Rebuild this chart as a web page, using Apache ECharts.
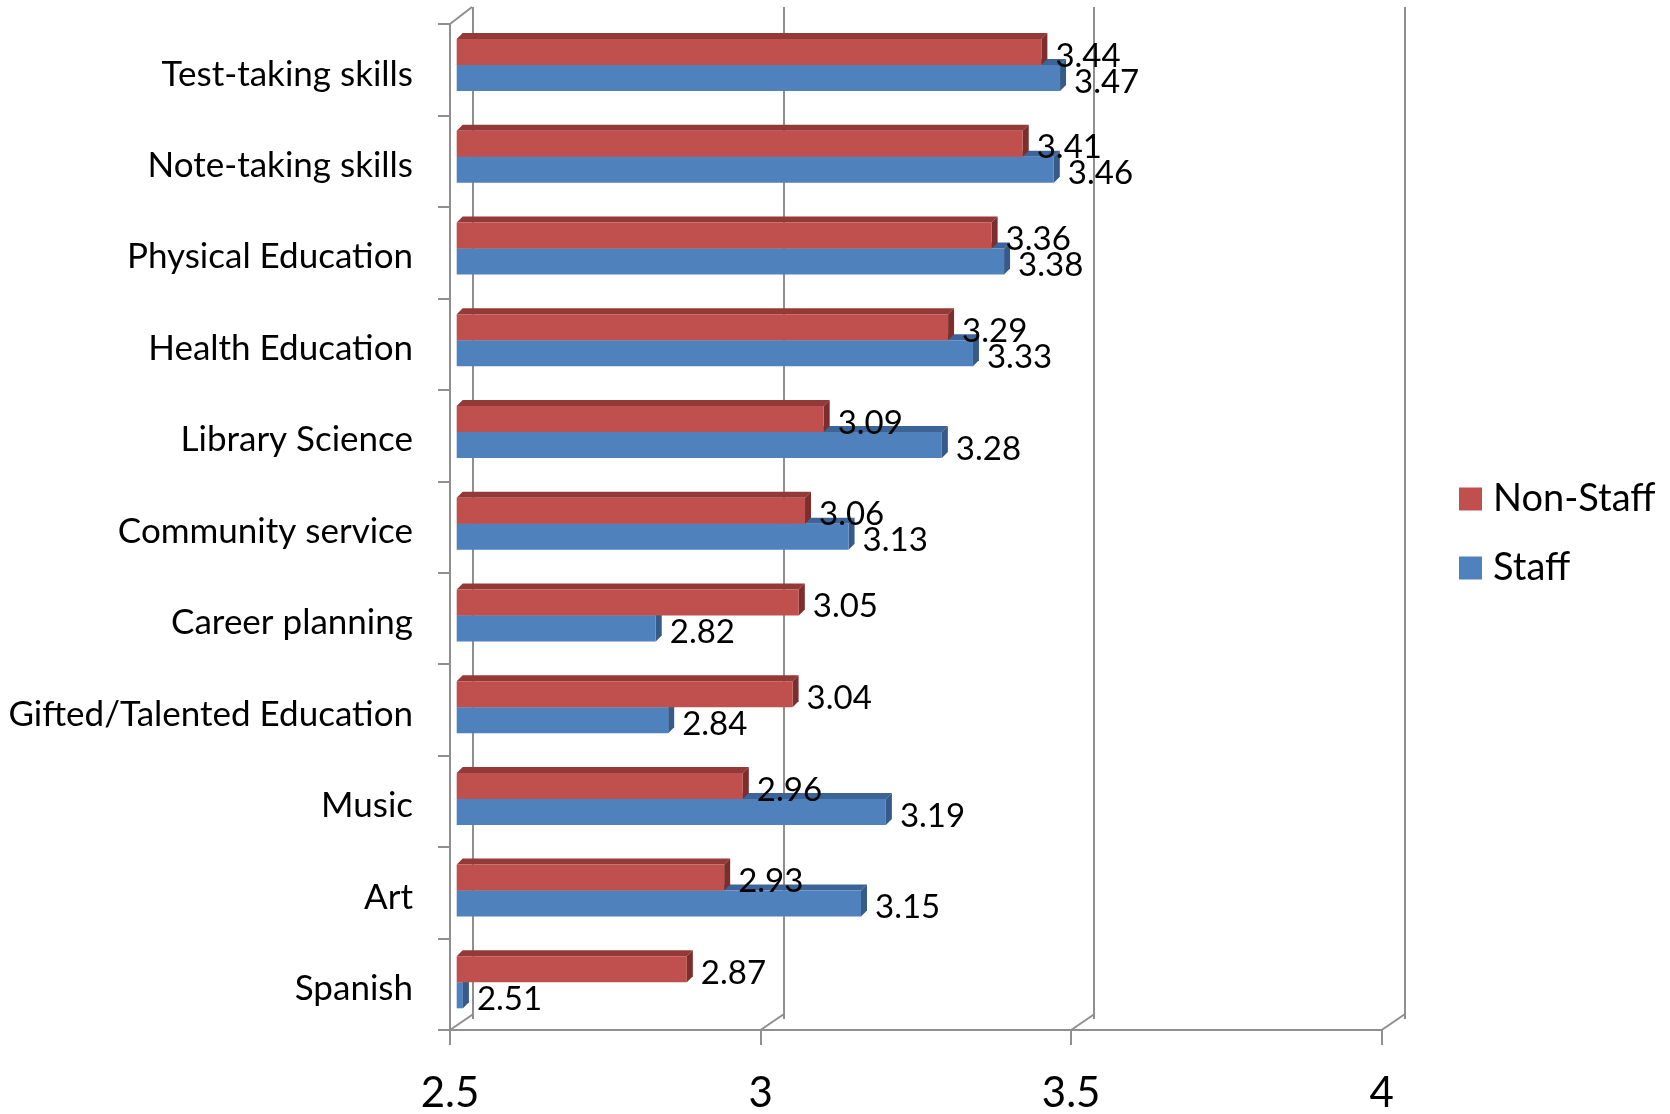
<!DOCTYPE html>
<html>
<head>
<meta charset="utf-8">
<title>Ratings by subject</title>
<script src="https://cdn.jsdelivr.net/npm/echarts@6/dist/echarts.min.js"></script>
<style>
  html, body { margin: 0; padding: 0; background: #ffffff; }
  #chart { width: 1670px; height: 1114px; }
</style>
</head>
<body>
<div id="chart"></div>
<script>
// ---- data ----
const CATEGORIES = [
  'Test-taking skills',
  'Note-taking skills',
  'Physical Education',
  'Health Education',
  'Library Science',
  'Community service',
  'Career planning',
  'Gifted/Talented Education',
  'Music',
  'Art',
  'Spanish'
];
const NON_STAFF = [3.44, 3.41, 3.36, 3.29, 3.09, 3.06, 3.05, 3.04, 2.96, 2.93, 2.87];
const STAFF     = [3.47, 3.46, 3.38, 3.33, 3.28, 3.13, 2.82, 2.84, 3.19, 3.15, 2.51];
const AXIS_MIN = 2.5;
const AXIS_MAX = 4;
const AXIS_STEP = 0.5;
const AXIS_TICKS = [2.5, 3, 3.5, 4];

// ---- styling ----
const FONT = 'Lato, "Open Sans", sans-serif';
const WALL = '#8f8f8f';
const BAR_H = 26;          // height of each bar's front face
const DEPTH = [6, -6];     // bar extrusion (top / end faces)
const FLOOR_DEPTH = [22.7, -15.5];
const TOP_DEPTH = [22, -17];

const PALETTE = {
  nonStaff: { front: '#C0504D', top: '#933a38', side: '#7c2e2c' },
  staff:    { front: '#4F81BD', top: '#3d6496', side: '#375b88' }
};

// 3D-looking horizontal bar: front face, top face, end face and value label
function barRenderer(colors, above) {
  return function (params, api) {
    const cat = api.value(1);
    const val = api.value(0);
    const p0 = api.coord([AXIS_MIN, cat]);
    const p1 = api.coord([val, cat]);
    const x0 = p0[0], x1 = p1[0];
    const y = above ? p0[1] - BAR_H : p0[1];
    const [dx, dy] = DEPTH;
    return {
      type: 'group',
      children: [
        {
          type: 'polygon',
          shape: { points: [[x0, y], [x0 + dx, y + dy], [x1 + dx, y + dy], [x1, y]] },
          style: { fill: colors.top }
        },
        {
          type: 'polygon',
          shape: { points: [[x1, y], [x1 + dx, y + dy], [x1 + dx, y + BAR_H + dy], [x1, y + BAR_H]] },
          style: { fill: colors.side }
        },
        {
          type: 'rect',
          shape: { x: x0, y: y, width: x1 - x0, height: BAR_H },
          style: { fill: colors.front }
        },
        {
          type: 'text',
          style: {
            text: val.toFixed(2),
            x: x1 + 14,
            y: y + BAR_H / 2 + 4,
            verticalAlign: 'middle',
            align: 'left',
            fill: '#000000',
            font: '33px ' + FONT
          },
          z2: 10
        }
      ]
    };
  };
}

// receding floor / wall edges of the 3D box
function wallRenderer(params, api) {
  const cs = params.coordSys;
  const v = api.value(0);
  const x = api.coord([v, 0])[0];
  const yB = cs.y + cs.height;
  const lineStyle = { stroke: WALL, lineWidth: 2 };
  const children = [{
    type: 'line',
    shape: { x1: x, y1: yB, x2: x + FLOOR_DEPTH[0], y2: yB + FLOOR_DEPTH[1] },
    style: lineStyle
  }];
  if (params.dataIndex === 0) {
    children.push({
      type: 'line',
      shape: { x1: cs.x, y1: cs.y, x2: cs.x + TOP_DEPTH[0], y2: cs.y + TOP_DEPTH[1] },
      style: lineStyle
    });
  }
  return { type: 'group', children: children };
}

const chart = echarts.init(document.getElementById('chart'), null, { renderer: 'canvas' });

chart.setOption({
  animation: false,
  backgroundColor: '#ffffff',
  legend: {
    orient: 'vertical',
    left: 1454,
    top: 475,
    itemWidth: 23,
    itemHeight: 23,
    itemGap: 31,
    icon: 'rect',
    data: ['Non-Staff', 'Staff'],
    textStyle: { fontFamily: FONT, fontSize: 38, color: '#000000', padding: [4, 0, 0, 6] }
  },
  grid: [
    // bars (mid depth)
    { left: 456.7, width: 933, top: 19.2, height: 1009 },
    // front wall + floor edge
    { left: 450, width: 931.7, top: 24, height: 1010 },
    // back wall
    { left: 472.5, width: 932.5, top: 7, height: 1012 }
  ],
  xAxis: [
    { gridIndex: 0, type: 'value', min: AXIS_MIN, max: AXIS_MAX, interval: AXIS_STEP, show: false },
    {
      gridIndex: 1, type: 'value', min: AXIS_MIN, max: AXIS_MAX, interval: AXIS_STEP,
      axisLine: { show: true, lineStyle: { color: WALL, width: 2 } },
      axisTick: { show: true, length: 15, lineStyle: { color: WALL, width: 2 } },
      splitLine: { show: false },
      axisLabel: {
        fontFamily: FONT, fontSize: 42, color: '#000000', margin: 42,
        formatter: function (v) { return String(v); }
      }
    },
    {
      gridIndex: 2, type: 'value', min: AXIS_MIN, max: AXIS_MAX, interval: AXIS_STEP,
      axisLine: { show: false }, axisTick: { show: false }, axisLabel: { show: false },
      splitLine: { show: true, lineStyle: { color: WALL, width: 2 } }
    }
  ],
  yAxis: [
    { gridIndex: 0, type: 'category', data: CATEGORIES, inverse: true, show: false },
    {
      gridIndex: 1, type: 'category', data: CATEGORIES, inverse: true,
      axisLine: { show: true, lineStyle: { color: WALL, width: 2 } },
      axisTick: { show: true, length: 12, lineStyle: { color: WALL, width: 2 } },
      axisLabel: {
        margin: 37,
        formatter: function (v) { return '{t|' + v + '}'; },
        rich: {
          t: {
            fontFamily: FONT, fontSize: 35, color: '#000000',
            lineHeight: 35, padding: [9, 0, 0, 0]
          }
        }
      }
    },
    { gridIndex: 2, type: 'category', data: CATEGORIES, inverse: true, show: false }
  ],
  series: [
    {
      name: 'walls',
      type: 'custom',
      xAxisIndex: 1, yAxisIndex: 1,
      renderItem: wallRenderer,
      data: AXIS_TICKS.map(function (t) { return [t, 0]; }),
      encode: { x: 0, y: 1 },
      silent: true,
      z: 1
    },
    {
      name: 'Staff',
      type: 'custom',
      xAxisIndex: 0, yAxisIndex: 0,
      itemStyle: { color: PALETTE.staff.front },
      renderItem: barRenderer(PALETTE.staff, false),
      data: STAFF.map(function (v, i) { return [v, i]; }),
      encode: { x: 0, y: 1 },
      z: 3
    },
    {
      name: 'Non-Staff',
      type: 'custom',
      xAxisIndex: 0, yAxisIndex: 0,
      itemStyle: { color: PALETTE.nonStaff.front },
      renderItem: barRenderer(PALETTE.nonStaff, true),
      data: NON_STAFF.map(function (v, i) { return [v, i]; }),
      encode: { x: 0, y: 1 },
      z: 4
    }
  ]
});
</script>
</body>
</html>
